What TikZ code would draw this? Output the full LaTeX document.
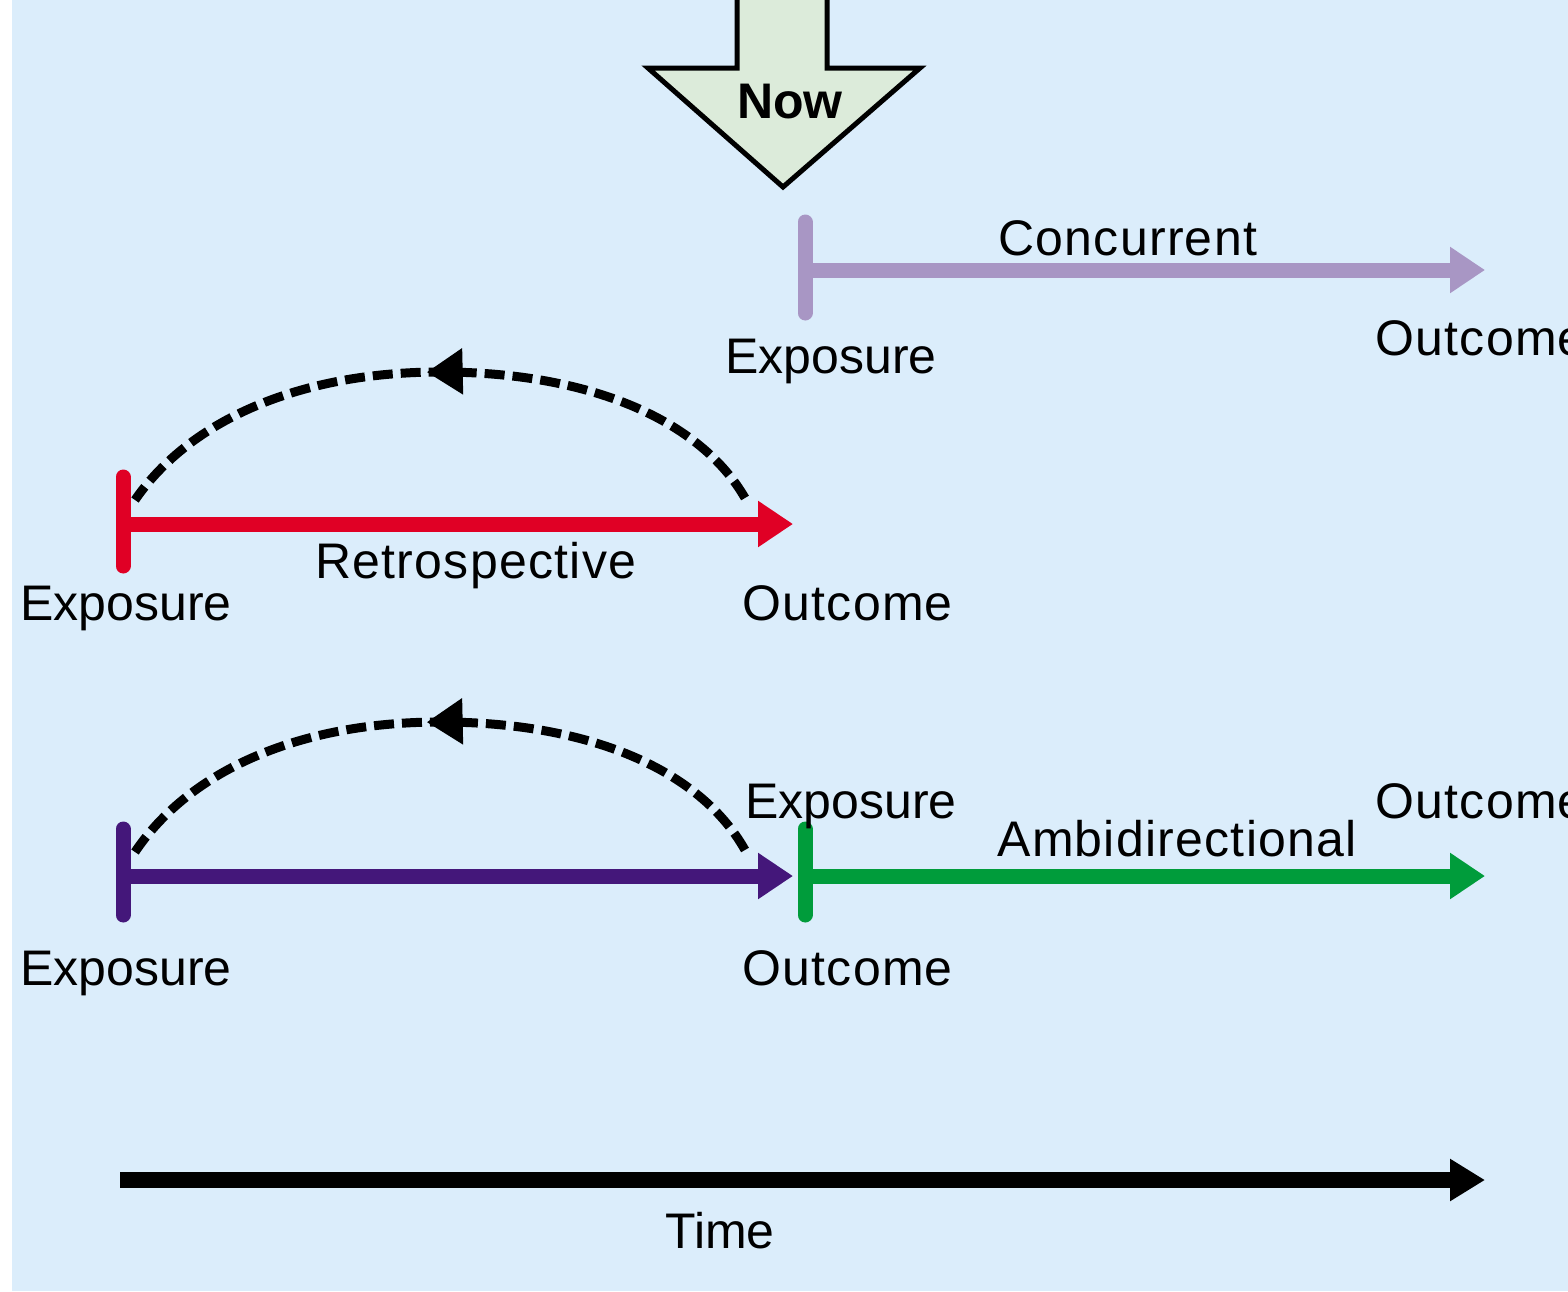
\documentclass[tikz,border=0pt]{standalone}
\usepackage{fontspec}
\setmainfont{Liberation Sans}
\usetikzlibrary{arrows.meta,decorations.markings}
\definecolor{bg}{HTML}{DBEDFB}
\definecolor{nowfill}{HTML}{DCEBDA}
\definecolor{conc}{HTML}{A896C4}
\definecolor{retro}{HTML}{E00025}
\definecolor{ambip}{HTML}{44177A}
\definecolor{ambig}{HTML}{009C3B}
\begin{document}
\begin{tikzpicture}[x=0.5pt,y=-0.5pt,
  lbl/.style={font=\fontsize{25}{30}\selectfont, inner sep=0pt, anchor=base west},
  lblw/.style={lbl, font=\fontsize{25}{30}\selectfont\addfontfeature{LetterSpace=2.5}},
  bar/.style={line width=7.5pt, line cap=round},
  span/.style={line width=7.5pt, -{Triangle[length=17.5pt,width=22pt]}},
  backarc/.style={line width=4.5pt, dash pattern=on 10pt off 4pt,
    postaction={decorate},
    decoration={markings, mark=at position 0.52 with {\arrow{Triangle[length=18pt,width=22pt]}}}}]
\useasboundingbox (0,0) rectangle (1568,1291);
\fill[bg] (12,0) rectangle (1568,1291);

% Now arrow
\draw[line width=2.5pt, fill=nowfill, line join=miter]
  (737,-20) -- (737,68) -- (648,68) -- (783,187) -- (920,68) -- (827,68) -- (827,-20);
\node[font=\fontsize{25}{30}\selectfont\bfseries, inner sep=0pt, anchor=base] (now) at (790,118) {Now};

% Concurrent
\coordinate (c1a) at (805,222); \coordinate (c1b) at (805,313);
\coordinate (c1s) at (805,270); \coordinate (c1e) at (1485,270);
\draw[bar, conc] (c1a) -- (c1b);
\draw[span, conc] (c1s) -- (c1e);
\node[lblw] (conclbl) at (998,255) {Concurrent};
\node[lbl] (concexp) at (725,373) {Exposure};
\node[lblw] (concout) at (1375,355) {Outcome};

% Retrospective
\coordinate (r1a) at (123,477); \coordinate (r1b) at (123,566);
\coordinate (r1s) at (123,524); \coordinate (r1e) at (793,524);
\coordinate (rarcR) at (745,498); \coordinate (rarcT) at (440,372); \coordinate (rarcL) at (135,500);
\draw[bar, retro] (r1a) -- (r1b);
\draw[span, retro] (r1s) -- (r1e);
\draw[backarc] (rarcR) .. controls (700,420) and (590,372) .. (rarcT)
  .. controls (300,372) and (190,420) .. (rarcL);
\node[lbl] (retroexp) at (20,620) {Exposure};
\node[lblw] (retrolbl) at (315,578) {Retrospective};
\node[lblw] (retroout) at (742,620) {Outcome};

% Ambidirectional
\coordinate (a1a) at (123,829); \coordinate (a1b) at (123,915);
\coordinate (a1s) at (123,876); \coordinate (a1e) at (793,876);
\coordinate (a2a) at (805,829); \coordinate (a2b) at (805,915);
\coordinate (a2s) at (805,876); \coordinate (a2e) at (1485,876);
\coordinate (aarcR) at (745,850); \coordinate (aarcT) at (440,722); \coordinate (aarcL) at (135,852);
\draw[bar, ambip] (a1a) -- (a1b);
\draw[span, ambip] (a1s) -- (a1e);
\draw[bar, ambig] (a2a) -- (a2b);
\draw[span, ambig] (a2s) -- (a2e);
\draw[backarc] (aarcR) .. controls (700,770) and (590,722) .. (aarcT)
  .. controls (300,722) and (190,770) .. (aarcL);
\node[lbl] (ambiexp2) at (745,818) {Exposure};
\node[lblw] (ambiout2) at (1375,818) {Outcome};
\node[lblw] (ambilbl) at (997,856) {Ambidirectional};
\node[lbl] (ambiexp1) at (20,985) {Exposure};
\node[lblw] (ambiout1) at (742,985) {Outcome};

% Time axis
\coordinate (t0) at (120,1180); \coordinate (t1) at (1485,1180);
\draw[line width=8pt, -{Triangle[length=17.5pt,width=20pt]}] (t0) -- (t1);
\node[lbl, anchor=base] (timelbl) at (720,1248) {Time};
\end{tikzpicture}
\end{document}
